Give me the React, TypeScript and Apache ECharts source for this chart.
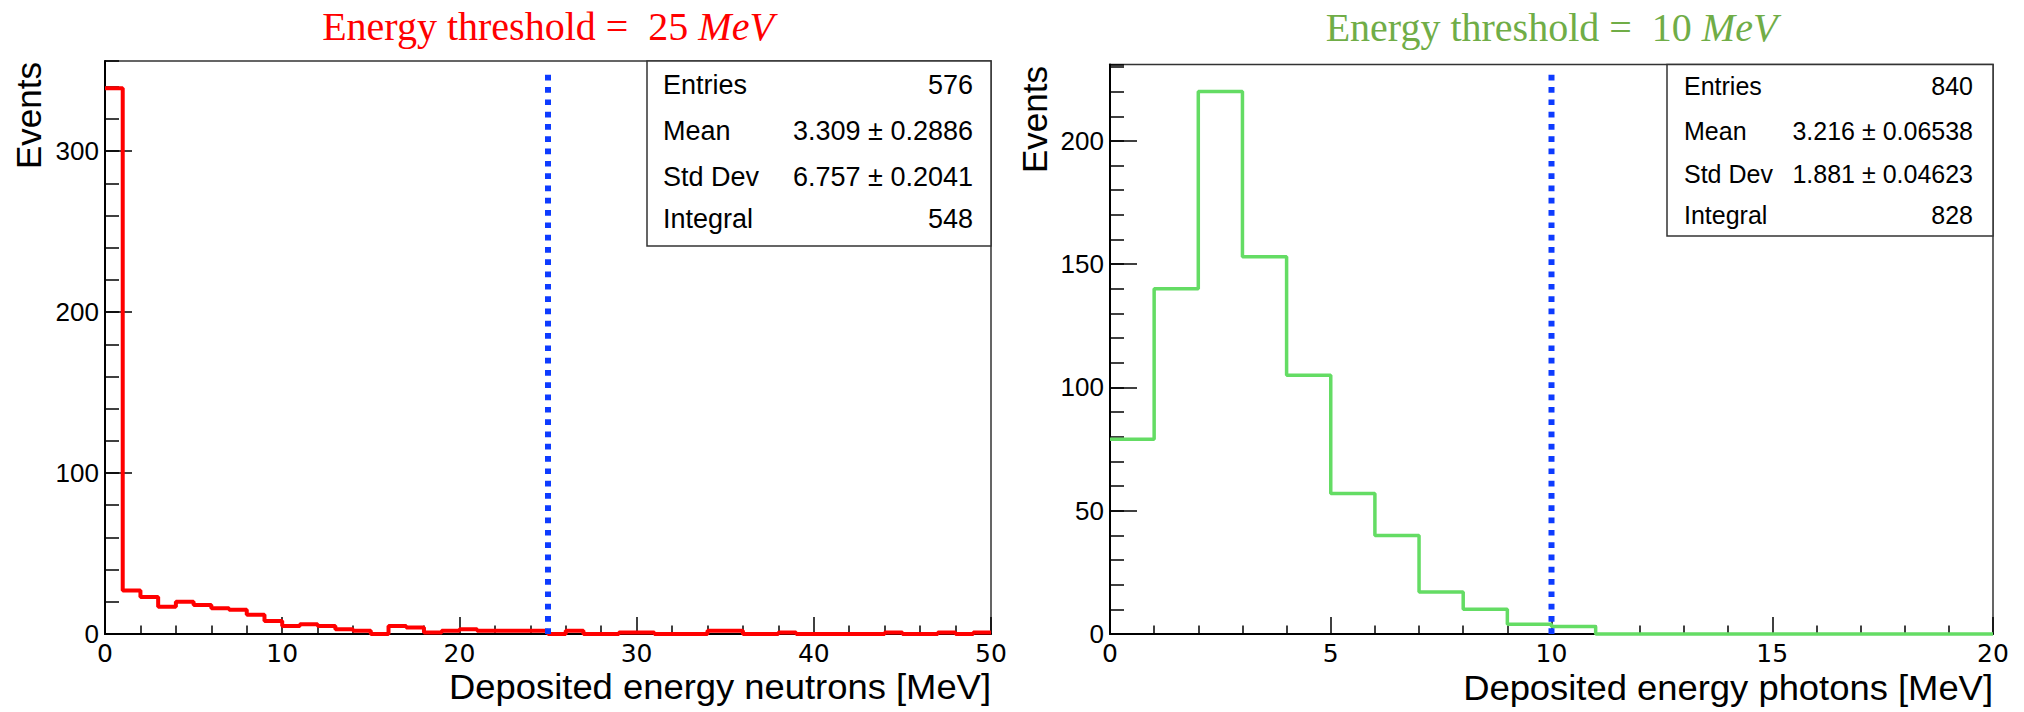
import { useEffect, useRef } from "react";
import * as echarts from "echarts";

// ---------- Data ----------
// Left histogram: deposited energy of neutrons, 1 MeV bins from 0 to 50 MeV
const NEUTRON_X_MIN = 0;
const NEUTRON_X_MAX = 50;
const NEUTRON_BIN_WIDTH = 1;
const NEUTRON_COUNTS = [
  339, 27, 23, 17, 20, 18, 16, 15, 12, 8,
  5, 6, 5, 3, 2, 0, 5, 4, 1, 2,
  3, 2, 2, 2, 2, 0, 2, 0, 0, 1,
  1, 0, 0, 0, 2, 2, 0, 0, 1, 0,
  0, 0, 0, 0, 1, 0, 0, 1, 0, 1,
];
const NEUTRON_Y_MAX = 356;
const NEUTRON_THRESHOLD = 25;
const NEUTRON_THRESHOLD_TOP = 350;
const NEUTRON_TITLE_VALUE = "25";
const NEUTRON_X_TITLE = "Deposited energy neutrons [MeV]";
const NEUTRON_STAT_VALUES = ["576", "3.309 \u00b1 0.2886", "6.757 \u00b1 0.2041", "548"];

// Right histogram: deposited energy of photons, 1 MeV bins from 0 to 20 MeV
const PHOTON_X_MIN = 0;
const PHOTON_X_MAX = 20;
const PHOTON_BIN_WIDTH = 1;
const PHOTON_COUNTS = [79, 140, 220, 153, 105, 57, 40, 17, 10, 4, 3, 0, 0, 0, 0, 0, 0, 0, 0, 0];
const PHOTON_Y_MAX = 231;
const PHOTON_THRESHOLD = 10;
const PHOTON_THRESHOLD_TOP = 227;
const PHOTON_TITLE_VALUE = "10";
const PHOTON_X_TITLE = "Deposited energy photons [MeV]";
const PHOTON_STAT_VALUES = ["840", "3.216 \u00b1 0.06538", "1.881 \u00b1 0.04623", "828"];

const STAT_LABELS = ["Entries", "Mean", "Std Dev", "Integral"];
const Y_TITLE = "Events";
const TITLE_PREFIX = "Energy threshold =  ";
const TITLE_UNIT = "MeV";

// ---------- Styling ----------
const SANS = "Liberation Sans";
const SERIF = "Liberation Serif";
const RED = "#ff0000";
const GREEN_LINE = "#64dc64";
const GREEN_TITLE = "#70ad47";
const BLUE = "#0d3bff";

function stepData(counts: number[], xMin: number, width: number) {
  const pts: number[][] = counts.map((c, i) => [xMin + i * width, c]);
  pts.push([xMin + counts.length * width, counts[counts.length - 1]]);
  return pts;
}

function xAxisOpt(gridIndex: number, min: number, max: number, interval: number) {
  return {
    type: "value",
    gridIndex,
    min,
    max,
    interval,
    position: "bottom",
    axisLine: { show: true, onZero: false, lineStyle: { color: "#000", width: 2 } },
    axisTick: { show: true, inside: true, length: 17, lineStyle: { color: "#000", width: 1.5 } },
    minorTick: { show: true, splitNumber: 5, length: 8.5, lineStyle: { color: "#000", width: 1.5 } },
    axisLabel: {
      show: true,
      margin: 7,
      color: "#000",
      fontSize: 25,
      fontFamily: "DejaVu Sans",
      showMinLabel: true,
      showMaxLabel: true,
    },
    splitLine: { show: false },
    minorSplitLine: { show: false },
  };
}

function yMajorAxis(gridIndex: number, max: number, interval: number) {
  return {
    type: "value",
    gridIndex,
    min: 0,
    max,
    interval,
    position: "left",
    axisLine: { show: true, onZero: false, lineStyle: { color: "#000", width: 2 } },
    axisTick: { show: true, inside: true, length: 27, lineStyle: { color: "#000", width: 1.5 } },
    axisLabel: {
      show: true,
      margin: 6,
      color: "#000",
      fontSize: 26,
      fontFamily: SANS,
      showMaxLabel: false,
    },
    splitLine: { show: false },
  };
}

function yMinorAxis(gridIndex: number, max: number, interval: number) {
  return {
    type: "value",
    gridIndex,
    min: 0,
    max,
    interval,
    position: "left",
    offset: 0,
    axisLine: { show: false },
    axisTick: { show: true, inside: true, length: 14, lineStyle: { color: "#000", width: 1.5 } },
    axisLabel: { show: false },
    splitLine: { show: false },
  };
}

function histSeries(
  xi: number,
  yi: number,
  counts: number[],
  xMin: number,
  w: number,
  color: string,
  lw: number
) {
  return {
    type: "line",
    xAxisIndex: xi,
    yAxisIndex: yi,
    step: "end",
    data: stepData(counts, xMin, w),
    symbol: "none",
    clip: false,
    lineStyle: { color, width: lw },
    z: 3,
  };
}

function thresholdSeries(xi: number, yi: number, x: number, top: number) {
  return {
    type: "line",
    xAxisIndex: xi,
    yAxisIndex: yi,
    data: [
      [x, 0],
      [x, top],
    ],
    symbol: "none",
    clip: false,
    lineStyle: { color: BLUE, width: 6, type: [5.7, 6.6], cap: "butt" },
    z: 4,
  };
}

function statsBox(
  x: number,
  y: number,
  w: number,
  h: number,
  values: string[],
  fontSize: number,
  rowYs: number[],
  padL: number,
  padR: number
) {
  const els: any[] = [
    {
      type: "rect",
      shape: { x, y, width: w, height: h },
      style: { fill: "#fff", stroke: "#333", lineWidth: 1.5 },
      z: 10,
    },
  ];
  STAT_LABELS.forEach((lab, i) => {
    els.push({
      type: "text",
      x: x + padL,
      y: rowYs[i],
      style: { text: lab, fontFamily: SANS, fontSize, fill: "#000", align: "left", verticalAlign: "middle" },
      z: 11,
    });
    els.push({
      type: "text",
      x: x + w - padR,
      y: rowYs[i],
      style: { text: values[i], fontFamily: SANS, fontSize, fill: "#000", align: "right", verticalAlign: "middle" },
      z: 11,
    });
  });
  return els;
}

function titleText(cx: number, cy: number, value: string, color: string) {
  return {
    type: "text",
    x: cx,
    y: cy,
    style: {
      text: TITLE_PREFIX + value + " {it|" + TITLE_UNIT + "}",
      fontFamily: SERIF,
      fontSize: 40,
      fill: color,
      align: "center",
      verticalAlign: "middle",
      rich: {
        it: { fontFamily: SERIF, fontSize: 40, fontStyle: "italic", fill: color },
      },
    },
  };
}

export default function App() {
  const ref = useRef<HTMLDivElement>(null);

  useEffect(() => {
    if (!ref.current) return;
    const chart = echarts.init(ref.current, undefined, { renderer: "svg" });

    const G0 = { left: 105, top: 61, width: 886, height: 573 };
    const G1 = { left: 1110, top: 64.5, width: 883, height: 569.5 };

    const option: any = {
      animation: false,
      backgroundColor: "#fff",
      grid: [
        { ...G0, show: true, borderColor: "#333", borderWidth: 1.5, backgroundColor: "transparent", containLabel: false },
        { ...G1, show: true, borderColor: "#333", borderWidth: 1.5, backgroundColor: "transparent", containLabel: false },
      ],
      xAxis: [
        xAxisOpt(0, NEUTRON_X_MIN, NEUTRON_X_MAX, 10),
        xAxisOpt(1, PHOTON_X_MIN, PHOTON_X_MAX, 5),
      ],
      yAxis: [
        yMajorAxis(0, NEUTRON_Y_MAX, 100),
        yMinorAxis(0, NEUTRON_Y_MAX, 20),
        yMajorAxis(1, PHOTON_Y_MAX, 50),
        yMinorAxis(1, PHOTON_Y_MAX, 10),
      ],
      series: [
        histSeries(0, 0, NEUTRON_COUNTS, NEUTRON_X_MIN, NEUTRON_BIN_WIDTH, RED, 4),
        thresholdSeries(0, 0, NEUTRON_THRESHOLD, NEUTRON_THRESHOLD_TOP),
        histSeries(1, 2, PHOTON_COUNTS, PHOTON_X_MIN, PHOTON_BIN_WIDTH, GREEN_LINE, 3.5),
        thresholdSeries(1, 2, PHOTON_THRESHOLD, PHOTON_THRESHOLD_TOP),
      ],
      graphic: {
        elements: [
          titleText(G0.left + G0.width / 2, 26, NEUTRON_TITLE_VALUE, RED),
          titleText(G1.left + G1.width / 2, 27, PHOTON_TITLE_VALUE, GREEN_TITLE),
          {
            type: "text",
            x: 28.5,
            y: 62,
            rotation: Math.PI / 2,
            style: { text: Y_TITLE, fontFamily: SANS, fontSize: 35, fill: "#000", align: "right", verticalAlign: "middle" },
          },
          {
            type: "text",
            x: 1034,
            y: 66,
            rotation: Math.PI / 2,
            style: { text: Y_TITLE, fontFamily: SANS, fontSize: 35, fill: "#000", align: "right", verticalAlign: "middle" },
          },
          {
            type: "text",
            x: G0.left + G0.width,
            y: 687,
            scaleX: 1.04,
            style: { text: NEUTRON_X_TITLE, fontFamily: SANS, fontSize: 35, fill: "#000", align: "right", verticalAlign: "middle" },
          },
          {
            type: "text",
            x: G1.left + G1.width,
            y: 688,
            scaleX: 1.04,
            style: { text: PHOTON_X_TITLE, fontFamily: SANS, fontSize: 35, fill: "#000", align: "right", verticalAlign: "middle" },
          },
          ...statsBox(647, 61, 344, 185, NEUTRON_STAT_VALUES, 27, [85, 131, 177, 219], 16, 18),
          ...statsBox(1667, 64.5, 326, 171.5, PHOTON_STAT_VALUES, 25, [86, 130.5, 174, 215], 17, 20),
        ],
      },
    };

    chart.setOption(option);
    return () => chart.dispose();
  }, []);

  return (
    <div
      ref={ref}
      style={{ position: "absolute", left: 0, top: 0, width: 2024, height: 712, background: "#fff" }}
    />
  );
}
